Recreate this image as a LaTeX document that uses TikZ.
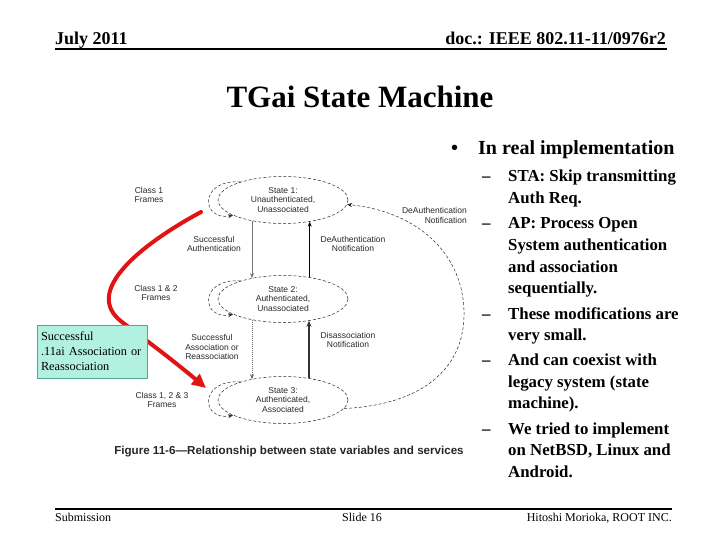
\documentclass[tikz,border=0pt]{standalone}
\usepackage{fontspec}
\setmainfont{Liberation Serif}
\newfontfamily\arialf{Liberation Sans}
\usetikzlibrary{shapes.geometric,arrows.meta}
\definecolor{mint}{RGB}{178,240,224}
\definecolor{mintedge}{RGB}{80,168,148}
\definecolor{redline}{RGB}{225,20,20}
\definecolor{diag}{RGB}{40,40,40}
\begin{document}
\begin{tikzpicture}[x=1pt,y=-1pt,
  hdr/.style={font=\fontsize{18}{20}\selectfont\bfseries, inner sep=0pt},
  foot/.style={font=\fontsize{12}{14}\selectfont, inner sep=0pt},
  body/.style={font=\fontsize{16.8}{19}\selectfont\bfseries, inner sep=0pt, anchor=base west},
  state/.style={ellipse, draw=diag, line width=0.5pt, dash pattern=on 3pt off 2pt,
     minimum width=130pt, minimum height=47pt, inner sep=0pt, align=center,
     text=diag, font=\arialf\fontsize{8.5}{9.8}\selectfont},
  lbl/.style={inner sep=0pt, align=center, text=diag, font=\arialf\fontsize{8.5}{9.8}\selectfont},
  loopst/.style={draw=diag, line width=0.5pt, dash pattern=on 3pt off 2pt,
     -{Stealth[length=5pt,width=4pt]}},
  arr/.style={line width=0.6pt, -{Stealth[length=5pt,width=4pt]}},
]
\useasboundingbox (0,0) rectangle (720,540);

% header
\node[hdr, anchor=base west] (date) at (55,45) {July 2011};
\node[hdr, anchor=base east] (doc) at (666,45) {doc.: IEEE 802.11-11/0976r2};
\draw[line width=2pt] (55,49.5) -- (667,49.5);

% title
\node[font=\fontsize{31}{34}\selectfont\bfseries, inner sep=0pt, anchor=base] (title) at (360,108) {TGai State Machine};

% right column
\node[font=\fontsize{20}{22}\selectfont\bfseries, inner sep=0pt, anchor=base west] (bul) at (451,155) {\textbullet};
\node[font=\fontsize{20}{22}\selectfont\bfseries, inner sep=0pt, anchor=base west] (b0) at (478,155) {In real implementation};
\node[body] (d1) at (482,182) {--};
\node[body] (t1a) at (508,182) {STA: Skip transmitting};
\node[body] (t1b) at (508,204) {Auth Req.};
\node[body] (d2) at (482,229) {--};
\node[body] (t2a) at (508,229) {AP: Process Open};
\node[body] (t2b) at (508,250.5) {System authentication};
\node[body] (t2c) at (508,272) {and association};
\node[body] (t2d) at (508,293.5) {sequentially.};
\node[body] (d3) at (482,319) {--};
\node[body] (t3a) at (508,319) {These modifications are};
\node[body] (t3b) at (508,340.5) {very small.};
\node[body] (d4) at (482,365.5) {--};
\node[body] (t4a) at (508,365.5) {And can coexist with};
\node[body] (t4b) at (508,387) {legacy system (state};
\node[body] (t4c) at (508,408.5) {machine).};
\node[body] (d5) at (482,434) {--};
\node[body] (t5a) at (508,434) {We tried to implement};
\node[body] (t5b) at (508,455.5) {on NetBSD, Linux and};
\node[body] (t5c) at (508,477) {Android.};

% diagram states
\node[state] (e1) at (283,200) {State 1:\\Unauthenticated,\\Unassociated};
\node[state] (e2) at (283,299) {State 2:\\Authenticated,\\Unassociated};
\node[state] (e3) at (283,400) {State 3:\\Authenticated,\\Associated};

% self loops
\draw[loopst] (e1.157) .. controls +(-42,-3) and +(-32,6) .. (e1.197);
\draw[loopst] (e2.157) .. controls +(-42,-3) and +(-32,6) .. (e2.197);
\draw[loopst] (e3.157) .. controls +(-42,-3) and +(-32,6) .. (e3.197);

\node[lbl] (c1) at (149,195) {Class 1\\Frames};
\node[lbl] (c2) at (156,293) {Class 1 \& 2\\Frames};
\node[lbl] (c3) at (162,400) {Class 1, 2 \& 3\\Frames};

% vertical transitions
\draw[arr, draw=black!55] (e1.214) -- (e2.146);
\draw[arr, draw=black] (e2.39) -- (e1.321);
\draw[arr, draw=black!60, dash pattern=on 1pt off 1pt, -{Stealth[length=5pt,width=4pt]}] (e2.214) -- (e3.146);
\draw[arr, draw=black!80, line width=1.6pt, -{Stealth[length=6pt,width=5pt]}] (e3.40) -- (e2.320);

\node[lbl] (l1) at (214,244) {Successful\\Authentication};
\node[lbl] (l2) at (353,244) {DeAuthentication\\Notification};
\node[lbl] (l3) at (212,347) {Successful\\Association or\\Reassociation};
\node[lbl] (l4) at (348,340) {Disassociation\\Notification};

% big return curve
\coordinate (bigmid) at (464,310);
\draw[loopst] (e3.352) .. controls (420,405) and (466,370) .. (bigmid)
   .. controls (462,255) and (420,212) .. (e1.356);
\node[lbl, align=right, anchor=north east] (l5) at (467,207) {DeAuthentication\\Notification};

% caption
\node[inner sep=0pt, text=black!85, font=\arialf\bfseries\fontsize{11.6}{13}\selectfont] (cap) at (289,452) {Figure 11-6—Relationship between state variables and services};

% red arrow
\coordinate (rs) at (201,212);
\coordinate (re) at (206,388);
\draw[redline, line width=4pt, line cap=round, -{Triangle[length=14pt,width=13pt]}]
  (rs) .. controls (140,245) and (82,292) .. (122,322)
       .. controls (150,343) and (175,362) .. (re);

% note box
\node[draw=mintedge, fill=mint, line width=0.8pt, minimum width=110pt, minimum height=53pt,
      text width=102pt, inner sep=4pt, align=left, font=\fontsize{12.3}{15}\selectfont] (note) at (92,351.5)
  {Successful\\.11ai Association or\\Reassociation};

% footer
\draw[line width=2pt] (55,509) -- (672,509);
\node[foot, anchor=base west] (sub) at (55,521.5) {Submission};
\node[foot, anchor=base west] (slide) at (342,521.5) {Slide 16};
\node[foot, anchor=base east] (auth) at (672,521.5) {Hitoshi Morioka, ROOT INC.};
\end{tikzpicture}
\end{document}
